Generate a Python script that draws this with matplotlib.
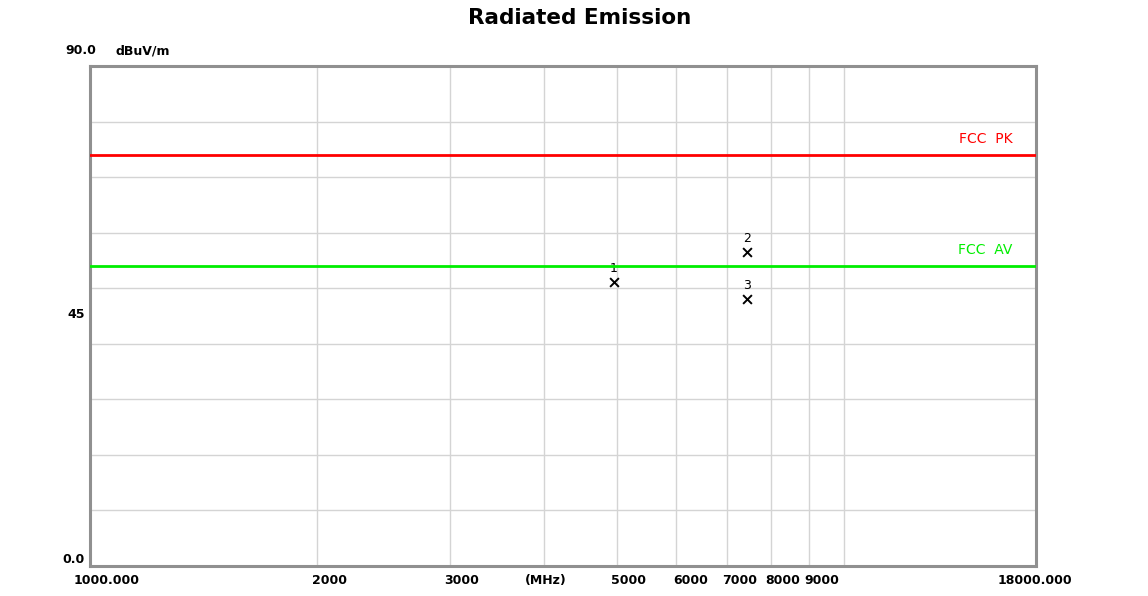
import matplotlib
matplotlib.use('Agg')
import numpy as np
import matplotlib.pyplot as plt
from matplotlib.transforms import ScaledTranslation

# limit lines (dBuV/m)
limit_names = ['FCC  PK', 'FCC  AV']
limit_levels = [74.0, 54.0]
limit_colors = ['#ff0000', '#00ee00']

# measured points
marker_ids = ['1', '2', '3']
marker_freq = [4960, 7440, 7440]
marker_level = [51.2, 56.6, 48.1]

xtick_vals = [1000, 2000, 3000, 4000, 5000, 6000, 7000, 8000, 9000, 18000]
xtick_labels = ['1000.000', '2000', '3000', '(MHz)', '5000', '6000', '7000', '8000', '9000', '18000.000']
xtick_shift = [17, 13, 12, 2, 12, 14, 13, 12, 13, -1]  # px, labels sit right of the gridline
xgrid_vals = [2000, 3000, 4000, 5000, 6000, 7000, 8000, 9000, 10000]


def main():
    fig = plt.figure(figsize=(11.48, 5.96), dpi=100)
    ax = fig.add_axes([0.0784, 0.0503, 0.824, 0.839])
    ax.set_xscale('log')
    ax.set_xlim(1000, 18000)
    ax.set_ylim(0, 90)

    for g in xgrid_vals:
        ax.axvline(g, color='#d4d4d4', lw=1.0, zorder=1)
    for g in np.arange(10, 90, 10):
        ax.axhline(g, color='#d4d4d4', lw=1.0, zorder=1)

    for name, lvl, c in zip(limit_names, limit_levels, limit_colors):
        ax.axhline(lvl, color=c, lw=2.0, zorder=3)
        ax.text(0.975, lvl + 1.6, name, transform=ax.get_yaxis_transform(),
                color=c, fontsize=10, ha='right', va='bottom')

    ax.scatter(marker_freq, marker_level, marker='x', color='black', s=40,
               linewidths=1.4, zorder=4)
    for mid, f, lv in zip(marker_ids, marker_freq, marker_level):
        ax.text(f, lv + 1.2, mid, fontsize=9, ha='center', va='bottom', zorder=2)

    ax.set_xticks(xtick_vals)
    ax.set_xticklabels(xtick_labels, fontsize=9, fontweight='bold')
    ax.xaxis.set_minor_locator(matplotlib.ticker.NullLocator())
    ax.set_yticks([0, 45])
    ax.set_yticklabels(['0.0', '45'], fontsize=9, fontweight='bold')
    ax.tick_params(length=0, pad=4)
    ax.tick_params(axis='x', pad=6)
    for lab, dx in zip(ax.get_xticklabels(), xtick_shift):
        lab.set_transform(lab.get_transform() + ScaledTranslation(dx / 100, 0, fig.dpi_scale_trans))
    for lab in ax.get_yticklabels():
        if lab.get_text() == '0.0':
            lab.set_va('bottom')
        else:
            lab.set_transform(lab.get_transform() + ScaledTranslation(0, 0.03, fig.dpi_scale_trans))

    for sp in ax.spines.values():
        sp.set_color('#909090')
        sp.set_linewidth(2.2)

    fig.text(96 / 1148, 1 - 51 / 596, '90.0', fontsize=9, fontweight='bold',
             ha='right', va='center')
    fig.text(116 / 1148, 1 - 51 / 596, 'dBuV/m', fontsize=9, fontweight='bold',
             ha='left', va='center')
    fig.text(580 / 1148, 1 - 18 / 596, 'Radiated Emission', fontsize=15.5,
             fontweight='bold', ha='center', va='center')

    fig.savefig('out.png', dpi=100)


if __name__ == "__main__":
    main()
